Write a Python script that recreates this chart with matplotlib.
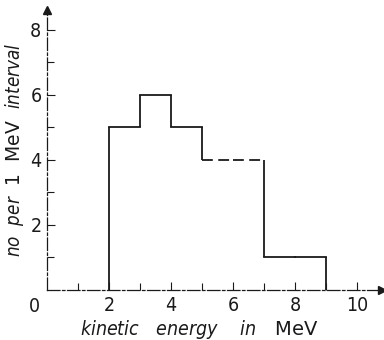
import matplotlib.pyplot as plt
import numpy as np

# energy bins in MeV and counts per 1 MeV interval
bin_edges = [0, 1, 2, 3, 4, 5, 6, 7, 8, 9, 10]
counts = [0, 0, 5, 6, 5, 4, 4, 1, 1, 0]
dashed_bins = [5, 6]  # bins drawn with broken line in the original
x_ticks = [2, 4, 6, 8, 10]
y_ticks = [2, 4, 6, 8]

plt.rcParams['font.family'] = ['DejaVu Sans']
plt.rcParams['font.stretch'] = 'condensed'

fig = plt.figure(figsize=(3.84, 3.40), dpi=100)
ax = fig.add_axes([47 / 384, 50 / 340, 335 / 384, 280 / 340])
ax.set_xlim(0, 10.8)
ax.set_ylim(0, 8.6)

ink = '#1a1a1a'

# histogram outline, one bin at a time
prev = 0
for i, c in enumerate(counts):
    x0, x1 = bin_edges[i], bin_edges[i + 1]
    if c != prev:
        ax.plot([x0, x0], [prev, c], color=ink, lw=1.3, solid_capstyle='butt')
    ls = (0, (6, 3)) if i in dashed_bins else '-'
    if c > 0:
        ax.plot([x0, x1], [c, c], color=ink, lw=1.3, ls=ls)
    prev = c

# axes drawn like the faded print
for s in ['top', 'right']:
    ax.spines[s].set_visible(False)
for s in ['left', 'bottom']:
    ax.spines[s].set_linewidth(0.9)
    ax.spines[s].set_linestyle((0, (10, 2, 2, 2)))
    ax.spines[s].set_color(ink)
ax.plot(1, 0, '>', color=ink, ms=6, transform=ax.get_yaxis_transform(), clip_on=False)
ax.plot(0, 1, '^', color=ink, ms=6, transform=ax.get_xaxis_transform(), clip_on=False)

ax.set_xticks(x_ticks)
ax.set_xticks(range(1, 11), minor=True)
ax.set_yticks(y_ticks)
ax.set_yticks(range(1, 9), minor=True)
ax.tick_params(which='both', direction='in', color=ink, width=0.8)
ax.tick_params(which='major', length=6, labelsize=14, labelcolor=ink, pad=4)
ax.tick_params(which='minor', length=5)
ax.text(-0.4, -0.22, '0', fontsize=14, color=ink, ha='center', va='top')

ax.set_xlabel(r'$\it{kinetic\ \ \ energy\ \ \ \ in}$   MeV', fontsize=14, color=ink,
              math_fontfamily='dejavusans', fontstretch='normal')
ax.xaxis.set_label_coords(0.455, -0.1)
ax.set_ylabel(r'$\it{no\ \ per}$  1  MeV  $\it{interval}$', fontsize=13.5, color=ink,
              labelpad=3, math_fontfamily='dejavusans', fontstretch='normal')

fig.savefig('out.png', dpi=100)
